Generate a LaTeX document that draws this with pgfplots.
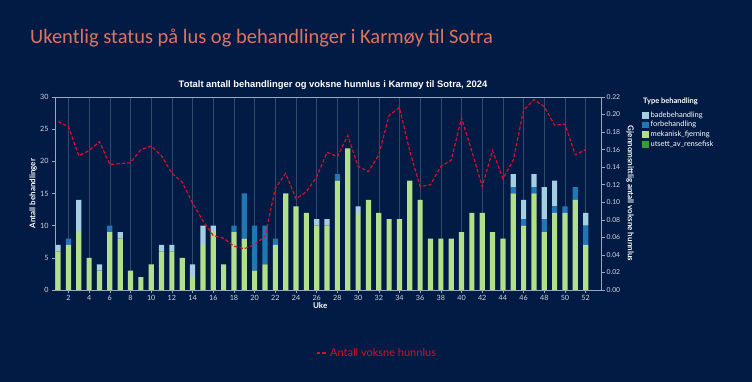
\documentclass[border=0pt]{standalone}
\usepackage{pgfplots}
\pgfplotsset{compat=1.18}
\usepackage{pgfplotstable}
\usepackage{fontspec}
\setmainfont{Lato}
\newfontfamily\titlefont{Carlito}
\newfontfamily\arialfont{Liberation Sans}
\definecolor{bg}{HTML}{021B44}
\definecolor{titlecol}{HTML}{E0735C}
\definecolor{bade}{HTML}{A6CEE3}
\definecolor{forb}{HTML}{1F78B4}
\definecolor{mek}{HTML}{B2DF8A}
\definecolor{utsett}{HTML}{33A02C}
\definecolor{lusred}{HTML}{D4102C}
\definecolor{gridc}{HTML}{34496E}
\definecolor{axc}{HTML}{9AA8C0}
\definecolor{tickc}{HTML}{D0D7E2}

\pgfplotstableread{
week mek forb bade lus
1 6 0 1 0.192
2 7 1 0 0.186
3 9 0 5 0.153
4 5 0 0 0.159
5 3 0 1 0.169
6 9 1 0 0.143
7 8 0 1 0.144
8 3 0 0 0.145
9 2 0 0 0.160
10 4 0 0 0.164
11 6 0 1 0.153
12 6 0 1 0.133
13 5 0 0 0.123
14 2 0 2 0.099
15 7 0 3 0.079
16 9 0 1 0.062
17 4 0 0 0.059
18 9 1 0 0.050
19 8 7 0 0.047
20 3 7 0 0.052
21 4 6 0 0.061
22 7 1 0 0.116
23 15 0 0 0.133
24 13 0 0 0.104
25 12 0 0 0.112
26 10 0 1 0.129
27 10 0 1 0.157
28 17 1 0 0.152
29 22 0 0 0.176
30 12 0 1 0.141
31 14 0 0 0.135
32 12 0 0 0.154
33 11 0 0 0.199
34 11 0 0 0.208
35 17 0 0 0.158
36 14 0 0 0.118
37 8 0 0 0.120
38 8 0 0 0.141
39 8 0 0 0.148
40 9 0 0 0.196
41 12 0 0 0.158
42 12 0 0 0.118
43 9 0 0 0.159
44 8 0 0 0.127
45 15 1 2 0.148
46 10 1 3 0.205
47 15 1 2 0.217
48 9 2 5 0.209
49 12 1 4 0.188
50 12 1 0 0.189
51 14 2 0 0.154
52 7 3 2 0.160
}\datatable

\begin{document}
\begin{tikzpicture}
\fill[bg] (0,0) rectangle (752bp,382bp);
\node[anchor=base west, text=titlecol, inner sep=0pt, font=\titlefont\fontsize{20.5bp}{24bp}\selectfont] at (30bp,338bp) {Ukentlig status på lus og behandlinger i Karmøy til Sotra};
\node[anchor=base, text=white, inner sep=0pt, font=\arialfont\bfseries\fontsize{9.4bp}{11bp}\selectfont] at (333bp,294bp) {Totalt antall behandlinger og voksne hunnlus i Karmøy til Sotra, 2024};
\node[anchor=base west, text=white, inner sep=0pt, font=\bfseries\fontsize{7.5bp}{9bp}\selectfont] at (643bp,278bp) {Type behandling};
\node[anchor=center, text=white, inner sep=0pt, rotate=-90, font=\bfseries\fontsize{8bp}{10bp}\selectfont] at (630bp,188.5bp) {Gjennomsnittlig antall voksne hunnlus};

\begin{axis}[
  at={(55bp,92bp)}, anchor=south west,
  scale only axis, width=546.7bp, height=193bp,
  xmin=0.7, xmax=53.55, ymin=0, ymax=30,
  ybar stacked, bar width=0.5, bar shift=0pt,
  xtick={2,4,...,52}, ytick={0,5,...,30},
  tick pos=left, tick align=outside,
  major tick length=3bp,
  xmajorgrids, major grid style={gridc, line width=0.5pt},
  axis line style={axc, line width=0.6pt},
  every tick/.style={axc, line width=0.5pt},
  tick label style={text=tickc, font=\fontsize{7.2bp}{9bp}\selectfont},
  /pgf/number format/assume math mode=true,
  xticklabel style={yshift=1bp},
  xlabel={Uke}, ylabel={Antall behandlinger},
  label style={text=white, font=\bfseries\fontsize{8bp}{10bp}\selectfont},
  xlabel style={at={(axis description cs:0.485,-0.083)}, anchor=center},
  ylabel style={at={(axis description cs:-0.040,0.5)}, anchor=center},
  legend image code/.code={\fill[#1] (0bp,-3.4bp) rectangle (6.8bp,3.4bp);},
  reverse legend,
  legend style={at={(axis description cs:1.073,0.935)}, anchor=north west,
    draw=none, fill=none, text=white, font=\fontsize{7.5bp}{9bp}\selectfont,
    row sep=-1.3bp, inner sep=0pt,
    /tikz/every even column/.append style={column sep=0bp}},
  legend cell align=left,
]
\addlegendimage{fill=utsett, draw=none}
\addplot[fill=mek, draw=none] table[x=week, y=mek] {\datatable};
\addplot[fill=forb, draw=none] table[x=week, y=forb] {\datatable};
\addplot[fill=bade, draw=none] table[x=week, y=bade] {\datatable};
\legend{utsett\_av\_rensefisk, mekanisk\_fjerning, forbehandling, badebehandling}
\end{axis}

\begin{axis}[
  at={(55bp,92bp)}, anchor=south west,
  scale only axis, width=546.7bp, height=193bp,
  xmin=0.7, xmax=53.55, ymin=0, ymax=0.22,
  axis x line=none, axis y line*=right,
  ytick={0,0.02,...,0.22},
  tick align=outside, major tick length=3bp,
  axis line style={axc, line width=0.6pt},
  every tick/.style={axc, line width=0.5pt},
  tick label style={text=tickc, font=\fontsize{6.8bp}{9bp}\selectfont},
  /pgf/number format/assume math mode=true,
  yticklabel style={xshift=-1.5bp, /pgf/number format/.cd, fixed, fixed zerofill, precision=2},
  scaled y ticks=false,
  legend style={at={(axis description cs:0.589,-0.326)}, anchor=center,
    draw=none, fill=none, text=lusred, font=\fontsize{11bp}{13bp}\selectfont, inner sep=0pt},
  legend image code/.code={\draw[#1] (0bp,0bp) -- (11bp,0bp);},
]
\addplot[color=lusred, line width=1.2pt, dash pattern=on 3.5bp off 2bp] table[x=week, y=lus] {\datatable};
\legend{Antall voksne hunnlus}
\end{axis}
\end{tikzpicture}
\end{document}
